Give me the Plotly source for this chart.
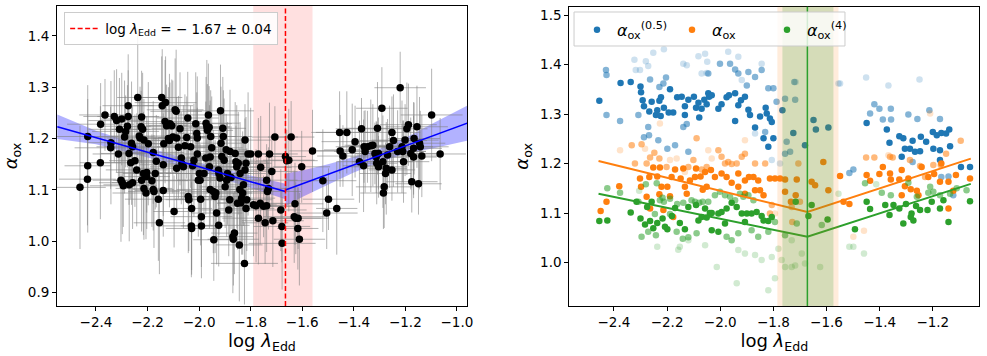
import plotly.graph_objects as go

# ---------------- left panel: alpha_ox vs log lambda_Edd, with errors ----------------
lam_left = [
    -2.462, -2.432, -2.432, -2.433, -2.382, -2.383, -2.365, -2.329, -2.320, -2.342,
    -2.343, -2.313, -2.309, -2.300, -2.289, -2.285, -2.278, -2.275, -2.275, -2.303,
    -2.298, -2.294, -2.271, -2.258, -2.265, -2.272, -2.262, -2.258, -2.249, -2.242,
    -2.238, -2.232, -2.229, -2.225, -2.223, -2.219, -2.223, -2.216, -2.214, -2.206,
    -2.203, -2.203, -2.214, -2.197, -2.183, -2.178, -2.178, -2.175, -2.170, -2.166,
    -2.158, -2.154, -2.145, -2.143, -2.139, -2.139, -2.137, -2.132, -2.130, -2.126,
    -2.119, -2.115, -2.113, -2.106, -2.102, -2.097, -2.093, -2.089, -2.087, -2.087,
    -2.080, -2.074, -2.069, -2.067, -2.061, -2.055, -2.048, -2.044, -2.042, -2.040,
    -2.033, -2.029, -2.029, -2.030, -2.025, -2.020, -2.013, -2.009, -2.007, -2.007,
    -2.003, -1.999, -1.996, -1.994, -1.991, -1.991, -1.981, -1.974, -1.973, -1.970,
    -1.968, -1.964, -1.961, -1.960, -1.957, -1.957, -1.955, -1.951, -1.945, -1.943,
    -1.938, -1.935, -1.932, -1.925, -1.924, -1.923, -1.919, -1.917, -1.915, -1.912,
    -1.908, -1.906, -1.903, -1.899, -1.895, -1.893, -1.890, -1.885, -1.881, -1.880,
    -1.876, -1.869, -1.867, -1.863, -1.860, -1.857, -1.854, -1.851, -1.848, -1.844,
    -1.842, -1.841, -1.838, -1.835, -1.831, -1.828, -1.822, -1.822, -1.818, -1.818,
    -1.815, -1.824, -1.810, -1.800, -1.789, -1.779, -1.770, -1.770, -1.763, -1.761,
    -1.750, -1.744, -1.738, -1.738, -1.735, -1.731, -1.727, -1.718, -1.714, -1.706,
    -1.683, -1.679, -1.678, -1.665, -1.660, -1.652, -1.643, -1.628, -1.631, -1.625,
    -1.617, -1.616, -1.611, -1.602, -1.560, -1.520, -1.498, -1.505, -1.466, -1.455,
    -1.453, -1.442, -1.427, -1.406, -1.395, -1.378, -1.370, -1.362, -1.360, -1.356,
    -1.347, -1.334, -1.326, -1.318, -1.313, -1.311, -1.308, -1.304, -1.304, -1.291,
    -1.287, -1.285, -1.282, -1.277, -1.274, -1.269, -1.261, -1.252, -1.252, -1.246,
    -1.230, -1.220, -1.213, -1.210, -1.207, -1.201, -1.194, -1.188, -1.179, -1.175,
    -1.168, -1.168, -1.166, -1.155, -1.149, -1.145, -1.142, -1.136, -1.098, -1.065,
]
aox_left = [
    1.105, 1.204, 1.147, 1.121, 1.228, 1.153, 1.246, 1.243, 1.235, 1.192,
    1.182, 1.170, 1.218, 1.238, 1.203, 1.214, 1.224, 1.264, 1.243, 1.119,
    1.114, 1.108, 1.110, 1.114, 1.153, 1.171, 1.191, 1.184, 1.157, 1.139,
    1.280, 1.205, 1.201, 1.223, 1.242, 1.218, 1.119, 1.132, 1.197, 1.094,
    1.134, 1.126, 1.103, 1.190, 1.118, 1.101, 1.173, 1.097, 1.132, 1.156,
    1.082, 1.036, 1.280, 1.264, 1.099, 1.149, 1.190, 1.233, 1.270, 1.225,
    1.200, 1.196, 1.229, 1.225, 1.203, 1.058, 1.256, 1.253, 1.142, 1.201,
    1.183, 1.219, 1.162, 1.151, 1.145, 1.186, 1.202, 1.240, 1.087, 1.081,
    1.184, 1.064, 1.025, 1.030, 1.147, 1.158, 1.229, 1.210, 1.201, 1.170,
    1.119, 1.132, 1.119, 1.082, 1.048, 1.030, 1.132, 1.162, 1.230, 1.223,
    1.216, 1.246, 1.222, 1.145, 1.164, 1.101, 1.204, 1.182, 1.097, 1.003,
    1.087, 1.094, 1.055, 1.139, 1.031, 1.132, 1.123, 1.254, 1.191, 1.165,
    1.220, 1.204, 1.158, 1.106, 1.178, 1.119, 1.132, 1.061, 1.081, 1.175,
    1.124, 1.009, 1.004, 1.016, 1.171, 1.155, 1.145, 1.074, 1.152, 0.993,
    1.101, 1.132, 1.075, 1.084, 1.094, 1.110, 1.197, 1.139, 1.152, 1.064,
    1.081, 0.957, 1.170, 1.170, 1.071, 1.069, 1.170, 1.045, 1.074, 1.144,
    1.068, 1.036, 1.119, 1.069, 1.097, 1.103, 1.170, 1.136, 1.040, 1.203,
    1.061, 1.029, 0.996, 1.165, 1.157, 1.158, 1.203, 1.073, 1.048, 1.045,
    1.025, 1.045, 1.004, 1.145, 1.176, 1.118, 1.082, 1.055, 1.064, 1.212,
    1.176, 1.166, 1.212, 1.178, 1.194, 1.155, 1.219, 1.147, 1.184, 1.175,
    1.184, 1.186, 1.187, 1.171, 1.164, 1.152, 1.220, 1.171, 1.145, 1.259,
    1.155, 1.094, 1.106, 1.132, 1.142, 1.168, 1.184, 1.212, 1.139, 1.196,
    1.175, 1.299, 1.184, 1.175, 1.155, 1.197, 1.219, 1.227, 1.171, 1.116,
    1.164, 1.181, 1.200, 1.223, 1.112, 1.191, 1.184, 1.166, 1.246, 1.170,
]
lam_err = [
    0.10, 0.12, 0.09, 0.11, 0.13, 0.08, 0.10, 0.12, 0.11, 0.09, 0.14, 0.10, 0.12, 0.08, 0.11, 0.13, 0.09, 0.10, 0.12, 0.11,
    0.09, 0.13, 0.10, 0.08, 0.12, 0.11, 0.09, 0.14, 0.10, 0.12, 0.08, 0.11, 0.13, 0.10, 0.09, 0.12, 0.11, 0.08, 0.10, 0.13,
    0.12, 0.09, 0.11, 0.10, 0.14, 0.08, 0.12, 0.10, 0.09, 0.11, 0.13, 0.10, 0.08, 0.12, 0.11, 0.09, 0.10, 0.14, 0.12, 0.08,
    0.11, 0.10, 0.13, 0.09, 0.12, 0.08, 0.11, 0.10, 0.14, 0.09, 0.12, 0.11, 0.10, 0.08, 0.13, 0.09, 0.11, 0.12, 0.10, 0.09,
    0.13, 0.08, 0.10, 0.12, 0.11, 0.09, 0.14, 0.10, 0.08, 0.12, 0.11, 0.13, 0.09, 0.10, 0.12, 0.08, 0.11, 0.10, 0.13, 0.09,
    0.10, 0.12, 0.08, 0.11, 0.09, 0.13, 0.10, 0.12, 0.11, 0.08, 0.09, 0.14, 0.10, 0.11, 0.12, 0.09, 0.08, 0.13, 0.10, 0.11,
    0.09, 0.11, 0.12, 0.10, 0.08, 0.13, 0.09, 0.11, 0.10, 0.12, 0.14, 0.08, 0.10, 0.09, 0.11, 0.12, 0.10, 0.08, 0.13, 0.09,
    0.12, 0.10, 0.09, 0.13, 0.11, 0.08, 0.10, 0.12, 0.09, 0.11, 0.10, 0.13, 0.08, 0.12, 0.09, 0.11, 0.10, 0.14, 0.09, 0.12,
    0.11, 0.09, 0.12, 0.10, 0.13, 0.08, 0.11, 0.10, 0.12, 0.09, 0.10, 0.11, 0.13, 0.08, 0.12, 0.10, 0.09, 0.11, 0.12, 0.10,
    0.08, 0.12, 0.10, 0.11, 0.09, 0.13, 0.10, 0.12, 0.08, 0.11, 0.09, 0.10, 0.12, 0.11, 0.13, 0.09, 0.10, 0.08, 0.11, 0.12,
    0.10, 0.09, 0.11, 0.12, 0.10, 0.08, 0.13, 0.09, 0.11, 0.10, 0.12, 0.09, 0.11, 0.10, 0.08, 0.12, 0.10, 0.11, 0.09, 0.13,
    0.11, 0.10, 0.12, 0.09, 0.10, 0.13, 0.08, 0.11, 0.12, 0.10, 0.09, 0.11, 0.10, 0.12, 0.09, 0.10, 0.11, 0.08, 0.12, 0.10,
]
aox_err = [
    0.12, 0.10, 0.13, 0.09, 0.08, 0.11, 0.07, 0.09, 0.10, 0.12, 0.08, 0.06, 0.10, 0.09, 0.11, 0.07, 0.08, 0.10, 0.09, 0.12,
    0.10, 0.08, 0.11, 0.09, 0.07, 0.10, 0.12, 0.08, 0.09, 0.11, 0.13, 0.08, 0.10, 0.07, 0.09, 0.11, 0.10, 0.12, 0.08, 0.09,
    0.11, 0.07, 0.10, 0.12, 0.09, 0.08, 0.10, 0.11, 0.07, 0.09, 0.12, 0.10, 0.08, 0.11, 0.09, 0.10, 0.07, 0.12, 0.09, 0.08,
    0.10, 0.13, 0.08, 0.09, 0.11, 0.07, 0.10, 0.12, 0.09, 0.08, 0.10, 0.11, 0.09, 0.07, 0.12, 0.10, 0.08, 0.09, 0.11, 0.10,
    0.08, 0.12, 0.09, 0.10, 0.07, 0.11, 0.10, 0.08, 0.12, 0.09, 0.11, 0.10, 0.07, 0.09, 0.12, 0.08, 0.10, 0.11, 0.09, 0.13,
    0.09, 0.10, 0.08, 0.12, 0.11, 0.07, 0.09, 0.10, 0.12, 0.08, 0.11, 0.09, 0.10, 0.07, 0.08, 0.12, 0.10, 0.09, 0.11, 0.08,
    0.10, 0.09, 0.12, 0.08, 0.07, 0.11, 0.10, 0.09, 0.08, 0.12, 0.10, 0.11, 0.09, 0.08, 0.10, 0.07, 0.12, 0.09, 0.10, 0.11,
    0.08, 0.10, 0.09, 0.11, 0.12, 0.08, 0.07, 0.10, 0.09, 0.11, 0.10, 0.08, 0.12, 0.09, 0.10, 0.11, 0.07, 0.09, 0.08, 0.10,
    0.06, 0.08, 0.07, 0.09, 0.06, 0.08, 0.10, 0.07, 0.09, 0.06, 0.08, 0.07, 0.09, 0.08, 0.06, 0.10, 0.07, 0.08, 0.09, 0.07,
    0.08, 0.06, 0.09, 0.07, 0.08, 0.10, 0.06, 0.07, 0.09, 0.08, 0.07, 0.06, 0.08, 0.09, 0.07, 0.08, 0.06, 0.09, 0.07, 0.08,
    0.07, 0.09, 0.08, 0.06, 0.07, 0.08, 0.09, 0.07, 0.06, 0.08, 0.09, 0.07, 0.08, 0.06, 0.09, 0.07, 0.08, 0.07, 0.06, 0.09,
    0.08, 0.07, 0.09, 0.06, 0.08, 0.07, 0.09, 0.08, 0.07, 0.06, 0.08, 0.09, 0.07, 0.08, 0.06, 0.09, 0.07, 0.08, 0.09, 0.07,
]

# broken fit with its confidence band (below / above the break)
break_lam = -1.665
band_left = [-1.790, -1.560]
fit_lo_x = [-2.55, -2.40, -2.20, -2.00, -1.80, -1.665]
fit_lo_y = [1.223, 1.202, 1.173, 1.145, 1.116, 1.097]
fit_lo_lower = [1.199, 1.189, 1.163, 1.137, 1.104, 1.082]
fit_lo_upper = [1.247, 1.215, 1.183, 1.153, 1.128, 1.112]
fit_hi_x = [-1.665, -1.60, -1.50, -1.40, -1.30, -1.20, -1.10, -0.96]
fit_hi_y = [1.100, 1.112, 1.130, 1.149, 1.167, 1.186, 1.204, 1.230]
fit_hi_lower = [1.068, 1.086, 1.110, 1.134, 1.154, 1.171, 1.180, 1.196]
fit_hi_upper = [1.132, 1.138, 1.150, 1.164, 1.180, 1.201, 1.228, 1.264]
break_label = "log <i>λ</i><sub>Edd</sub> = − 1.67 ± 0.04"

# ---------------- right panel: three alpha_ox definitions ----------------
# points split by their plotted weight: hi (opaque), mid, light (faint)
blue_hi_x = [-2.455, -2.375, -2.337, -2.300, -2.298, -2.292, -2.287, -2.267, -2.258, -2.237,
             -2.229, -2.223, -2.242, -2.224, -2.212, -2.194, -2.177, -2.189, -2.162, -2.145,
             -2.133, -2.120, -2.099, -2.091, -2.082, -2.070, -2.060, -2.051, -2.045, -2.079,
             -2.133, -2.042, -2.032, -2.007, -1.995, -1.976, -1.967, -1.944, -1.944, -1.932,
             -1.922, -1.907, -1.894, -1.888, -1.869, -1.850, -1.829, -1.825, -1.813, -1.806,
             -1.837, -1.800, -1.819, -1.766, -1.725, -1.649, -1.640, -1.593, -1.681, -1.449,
             -1.373, -1.363, -1.326, -1.311, -1.305, -1.286, -1.276, -1.267, -1.248, -1.245,
             -1.225, -1.198, -1.200, -1.185, -1.173, -1.168, -1.150, -1.138, -1.135, -1.173,
             -1.317, -1.094, -1.060]
blue_hi_y = [1.327, 1.363, 1.365, 1.356, 1.344, 1.328, 1.316, 1.305, 1.325, 1.308,
             1.327, 1.334, 1.298, 1.296, 1.313, 1.303, 1.303, 1.350, 1.334, 1.335,
             1.316, 1.329, 1.335, 1.313, 1.323, 1.311, 1.329, 1.320, 1.342, 1.293,
             1.298, 1.335, 1.338, 1.311, 1.320, 1.334, 1.338, 1.342, 1.286, 1.318,
             1.328, 1.335, 1.309, 1.298, 1.273, 1.295, 1.313, 1.301, 1.291, 1.284,
             1.251, 1.251, 1.234, 1.308, 1.262, 1.288, 1.269, 1.273, 1.237, 1.282,
             1.269, 1.242, 1.255, 1.251, 1.230, 1.230, 1.246, 1.224, 1.225, 1.254,
             1.244, 1.230, 1.264, 1.257, 1.227, 1.262, 1.261, 1.269, 1.235, 1.207,
             1.214, 1.193, 1.193]
blue_mid_x = [-2.430, -2.428, -2.428, -2.377, -2.308, -2.264, -2.204, -2.214, -2.229, -2.271,
              -2.268, -2.287, -2.233, -2.199, -2.139, -2.126, -2.170, -2.120, -2.045, -2.001,
              -1.963, -1.944, -1.932, -1.894, -1.869, -1.900, -1.844, -1.819, -1.800, -1.788,
              -1.756, -1.718, -1.831, -1.750, -1.737, -1.756, -1.721, -1.436, -1.420, -1.401,
              -1.388, -1.358, -1.357, -1.292, -1.258, -1.213, -1.173, -1.276, -1.499, -1.514,
              -1.168, -1.141, -1.123]
blue_mid_y = [1.389, 1.379, 1.298, 1.286, 1.298, 1.370, 1.374, 1.362, 1.355, 1.274,
              1.257, 1.253, 1.247, 1.230, 1.274, 1.280, 1.237, 1.224, 1.382, 1.402,
              1.402, 1.390, 1.382, 1.385, 1.375, 1.358, 1.389, 1.352, 1.352, 1.325,
              1.331, 1.329, 1.264, 1.244, 1.224, 1.220, 1.365, 1.301, 1.320, 1.311,
              1.289, 1.311, 1.289, 1.299, 1.290, 1.308, 1.290, 1.203, 1.188, 1.181,
              1.173, 1.174, 1.136]
blue_light_x = [-2.318, -2.302, -2.280, -2.323, -2.252, -2.212, -2.126, -2.139, -2.082, -2.070,
                -2.051, -2.049, -2.271, -2.057, -1.970, -1.932, -1.844, -1.869, -1.919, -1.806,
                -1.775, -1.716, -1.555, -1.451, -1.367, -1.250, -1.549]
blue_light_y = [1.389, 1.389, 1.407, 1.410, 1.424, 1.431, 1.399, 1.402, 1.417, 1.382,
                1.383, 1.406, 1.397, 1.422, 1.426, 1.416, 1.402, 1.261, 1.369, 1.207,
                1.200, 1.365, 1.362, 1.374, 1.358, 1.370, 1.362]

orange_hi_x = [-2.380, -2.302, -2.298, -2.267, -2.252, -2.227, -2.221, -2.199, -2.189, -2.183,
               -2.170, -2.139, -2.133, -2.126, -2.114, -2.095, -2.091, -2.074, -2.051, -2.066,
               -2.428, -2.264, -2.277, -2.229, -2.214, -2.177, -2.149, -2.237, -2.057, -2.035,
               -2.020, -1.995, -1.976, -1.957, -1.932, -1.907, -1.892, -1.875, -1.857, -1.932,
               -1.907, -1.869, -1.850, -1.837, -1.813, -1.794, -1.775, -1.756, -1.734, -1.756,
               -1.712, -1.716, -1.656, -1.643, -1.593, -1.612, -1.536, -1.549, -1.449, -1.436,
               -1.401, -1.388, -1.361, -1.358, -1.326, -1.317, -1.305, -1.292, -1.283, -1.260,
               -1.254, -1.242, -1.217, -1.195, -1.173, -1.168, -1.141, -1.123, -1.113, -1.060,
               -1.514, -1.317, -1.141, -2.450]
orange_hi_y = [1.154, 1.170, 1.153, 1.173, 1.192, 1.192, 1.153, 1.153, 1.134, 1.173,
               1.188, 1.190, 1.153, 1.139, 1.166, 1.173, 1.190, 1.174, 1.153, 1.147,
               1.123, 1.109, 1.133, 1.138, 1.106, 1.092, 1.170, 1.174, 1.183, 1.187,
               1.173, 1.180, 1.173, 1.161, 1.180, 1.166, 1.173, 1.173, 1.166, 1.153,
               1.139, 1.146, 1.146, 1.136, 1.170, 1.170, 1.170, 1.143, 1.123, 1.168,
               1.168, 1.136, 1.163, 1.156, 1.146, 1.203, 1.123, 1.175, 1.177, 1.165,
               1.179, 1.193, 1.180, 1.168, 1.168, 1.187, 1.154, 1.170, 1.148, 1.145,
               1.136, 1.193, 1.173, 1.179, 1.163, 1.200, 1.163, 1.145, 1.177, 1.170,
               1.118, 1.136, 1.109, 1.104]
orange_mid_x = [-2.321, -2.333, -2.296, -2.277, -2.264, -2.229, -2.202, -2.120, -2.101, -2.089,
                -2.070, -2.051, -2.248, -2.007, -1.995, -1.982, -1.970, -1.957, -1.938, -1.919,
                -1.907, -1.869, -1.831, -1.806, -1.813, -1.731, -1.706, -1.700, -1.729, -1.451,
                -1.420, -1.361, -1.351, -1.286, -1.248, -1.198, -1.170, -1.150, -1.229, -1.095]
orange_mid_y = [1.200, 1.237, 1.239, 1.200, 1.212, 1.210, 1.193, 1.193, 1.207, 1.251,
                1.188, 1.193, 1.222, 1.227, 1.214, 1.200, 1.203, 1.199, 1.200, 1.214,
                1.220, 1.200, 1.200, 1.116, 1.099, 1.112, 1.200, 1.123, 1.082, 1.212,
                1.212, 1.214, 1.212, 1.207, 1.195, 1.197, 1.197, 1.220, 1.173, 1.246]
orange_light_x = [-2.377, -2.227, -2.283, -2.189, -2.164, -2.133, -2.032, -2.045, -1.907, -1.794,
                  -1.459, -1.499, -1.367, -1.210]
orange_light_y = [1.227, 1.281, 1.230, 1.207, 1.210, 1.183, 1.210, 1.227, 1.247, 1.099,
                  1.064, 1.052, 1.217, 1.301]

green_hi_x = [-2.455, -2.425, -2.337, -2.300, -2.283, -2.264, -2.237, -2.217, -2.199, -2.182,
              -2.170, -2.152, -2.133, -2.120, -2.091, -2.082, -2.070, -2.051, -2.039, -2.275,
              -2.315, -2.258, -2.208, -2.252, -2.057, -2.032, -2.007, -1.995, -1.976, -1.957,
              -1.938, -1.919, -1.900, -1.882, -1.863, -1.844, -1.837, -1.819, -1.806, -2.032,
              -2.007, -1.982, -1.907, -1.656, -1.596, -1.716, -1.668, -1.449, -1.436, -1.379,
              -1.363, -1.348, -1.326, -1.311, -1.301, -1.283, -1.273, -1.263, -1.248, -1.220,
              -1.204, -1.173, -1.160, -1.141, -1.060, -1.280, -1.493]
green_hi_y = [1.084, 1.085, 1.101, 1.089, 1.077, 1.084, 1.080, 1.089, 1.067, 1.094,
              1.110, 1.080, 1.067, 1.112, 1.116, 1.085, 1.092, 1.091, 1.100, 1.112,
              1.123, 1.123, 1.072, 1.069, 1.109, 1.100, 1.099, 1.102, 1.109, 1.121,
              1.112, 1.099, 1.099, 1.099, 1.102, 1.094, 1.085, 1.084, 1.092, 1.065,
              1.062, 1.079, 1.082, 1.116, 1.087, 1.123, 1.094, 1.123, 1.108, 1.116,
              1.096, 1.116, 1.109, 1.079, 1.118, 1.092, 1.085, 1.114, 1.106, 1.106,
              1.123, 1.109, 1.126, 1.082, 1.124, 1.099, 1.067]
green_mid_x = [-2.425, -2.377, -2.308, -2.280, -2.239, -2.227, -2.217, -2.212, -2.189, -2.162,
               -2.139, -2.108, -2.095, -2.079, -2.066, -2.271, -2.242, -2.164, -2.141, -2.120,
               -2.089, -2.296, -2.246, -2.189, -2.045, -2.020, -2.001, -1.982, -1.963, -1.944,
               -1.926, -1.913, -1.894, -1.875, -1.932, -1.957, -1.976, -1.882, -1.857, -1.819,
               -1.794, -1.756, -1.712, -1.618, -1.455, -1.392, -1.358, -1.292, -1.217, -1.198,
               -1.173, -1.135, -1.110, -1.073, -1.210, -1.260]
green_mid_y = [1.150, 1.141, 1.123, 1.158, 1.160, 1.126, 1.131, 1.123, 1.129, 1.118,
               1.121, 1.126, 1.123, 1.121, 1.123, 1.062, 1.055, 1.062, 1.048, 1.051,
               1.059, 1.052, 1.098, 1.098, 1.123, 1.136, 1.143, 1.136, 1.133, 1.126,
               1.139, 1.133, 1.136, 1.126, 1.059, 1.045, 1.052, 1.065, 1.052, 1.062,
               1.082, 1.055, 1.079, 1.076, 1.160, 1.141, 1.136, 1.161, 1.141, 1.143,
               1.136, 1.139, 1.150, 1.146, 1.153, 1.133]
green_light_x = [-2.152, -2.158, -2.237, -2.057, -2.120, -2.305, -1.932, -1.907, -1.869, -1.844,
                 -1.806, -1.769, -1.731, -1.693, -1.794, -1.756, -1.718, -1.681, -1.555, -1.781,
                 -1.514, -1.499, -1.459, -1.413, -2.013, -1.938, -1.819, -1.731, -1.624]
green_light_y = [1.032, 1.026, 1.032, 1.035, 1.045, 1.145, 1.025, 1.018, 1.015, 1.005,
                 1.011, 1.005, 1.045, 1.018, 0.968, 0.991, 0.994, 0.998, 1.139, 1.028,
                 1.032, 1.032, 1.018, 1.158, 0.991, 0.958, 0.944, 0.991, 0.991]

# broken fits of the right panel (start, break, end)
fitR_x = [-2.458, -1.672, -1.057]
orange_fit = [1.205, 1.102, 1.210]
green_fit = [1.139, 1.052, 1.159]
break_right = -1.672
band_orange = [-1.785, -1.555]
band_green = [-1.766, -1.574]

TAB_BLUE, TAB_ORANGE, TAB_GREEN = "#1f77b4", "#ff7f0e", "#2ca02c"
FONT = "DejaVu Sans"


def make_figure():
    fig = go.Figure()

    # --- left panel ---
    fig.add_shape(type="rect", x0=band_left[0], x1=band_left[1], y0=0, y1=1,
                  xref="x", yref="y domain", layer="below", line_width=0,
                  fillcolor="rgba(255,0,0,0.12)")

    for xs, lo, hi in [(fit_lo_x, fit_lo_lower, fit_lo_upper), (fit_hi_x, fit_hi_lower, fit_hi_upper)]:
        fig.add_trace(go.Scatter(x=xs, y=lo, mode="lines", line=dict(width=0),
                                 showlegend=False, hoverinfo="skip"))
        fig.add_trace(go.Scatter(x=xs, y=hi, mode="lines", line=dict(width=0),
                                 fill="tonexty", fillcolor="rgba(0,0,255,0.3)",
                                 showlegend=False, hoverinfo="skip"))

    fig.add_trace(go.Scatter(
        x=lam_left, y=aox_left, mode="markers",
        marker=dict(color="black", size=7.5),
        error_x=dict(type="data", array=lam_err, color="rgba(128,128,128,0.6)",
                     thickness=1, width=0),
        error_y=dict(type="data", array=aox_err, color="rgba(128,128,128,0.6)",
                     thickness=1, width=0),
        showlegend=False))

    for xs, ys in [(fit_lo_x, fit_lo_y), (fit_hi_x, fit_hi_y)]:
        fig.add_trace(go.Scatter(x=xs, y=ys, mode="lines", line=dict(color="blue", width=1.5),
                                 showlegend=False))

    # legend entry for the break (the line itself is a shape)
    fig.add_trace(go.Scatter(
        x=[None], y=[None], mode="lines", line=dict(color="red", width=1.5, dash="5px,2.5px"),
        name=break_label, legend="legend"))

    fig.add_shape(type="line", x0=break_lam, x1=break_lam, y0=0, y1=1,
                  xref="x", yref="y domain", layer="above",
                  line=dict(color="red", width=1.5, dash="5px,2.5px"))

    # --- right panel ---
    weights = {"light": 0.22, "mid": 0.55, "hi": 1.0}
    series = [
        (TAB_BLUE, "<i>α</i><sub>ox</sub><sup>(0.5)</sup>",
         {"light": (blue_light_x, blue_light_y), "mid": (blue_mid_x, blue_mid_y),
          "hi": (blue_hi_x, blue_hi_y)}),
        (TAB_ORANGE, "<i>α</i><sub>ox</sub>",
         {"light": (orange_light_x, orange_light_y), "mid": (orange_mid_x, orange_mid_y),
          "hi": (orange_hi_x, orange_hi_y)}),
        (TAB_GREEN, "<i>α</i><sub>ox</sub><sup>(4)</sup>",
         {"light": (green_light_x, green_light_y), "mid": (green_mid_x, green_mid_y),
          "hi": (green_hi_x, green_hi_y)}),
    ]
    for color, label, groups in series:
        for level in ["light", "mid", "hi"]:
            xs, ys = groups[level]
            fig.add_trace(go.Scatter(
                x=xs, y=ys, mode="markers", xaxis="x2", yaxis="y2",
                marker=dict(color=color, size=6.5, opacity=weights[level]),
                name=label, legend="legend2", showlegend=(level == "hi")))

    fig.add_trace(go.Scatter(x=fitR_x, y=orange_fit, mode="lines", xaxis="x2", yaxis="y2",
                             line=dict(color=TAB_ORANGE, width=2), showlegend=False))
    fig.add_trace(go.Scatter(x=fitR_x, y=green_fit, mode="lines", xaxis="x2", yaxis="y2",
                             line=dict(color=TAB_GREEN, width=2), showlegend=False))

    fig.add_shape(type="rect", x0=band_orange[0], x1=band_orange[1], y0=0, y1=1,
                  xref="x2", yref="y2 domain", layer="above", line_width=0,
                  fillcolor="rgba(255,127,14,0.15)")
    fig.add_shape(type="rect", x0=band_green[0], x1=band_green[1], y0=0, y1=1,
                  xref="x2", yref="y2 domain", layer="above", line_width=0,
                  fillcolor="rgba(44,160,44,0.2)")
    fig.add_shape(type="line", x0=break_right, x1=break_right, y0=0, y1=1,
                  xref="x2", yref="y2 domain", layer="above",
                  line=dict(color=TAB_GREEN, width=1.5))

    # frame behind the right legend (matplotlib-style box, wider than plotly's own)
    fig.add_shape(type="rect", xref="paper", yref="paper",
                  x0=0.5816, x1=0.8561, y0=0.8708, y1=0.9663, layer="above",
                  fillcolor="rgba(255,255,255,0.8)", line=dict(color="#cccccc", width=1))

    axis_common = dict(showline=True, mirror=True, linecolor="black", linewidth=1,
                       ticks="outside", ticklen=4, tickcolor="black", showgrid=False,
                       zeroline=False, tickfont=dict(size=13.5, color="black"),
                       automargin=False)
    xtitle = dict(text="log <i>λ</i><sub>Edd</sub>", font=dict(size=18, color="black"), standoff=3)
    ytitle = dict(text="<i>α</i><sub>ox</sub>", font=dict(size=18, color="black"), standoff=6)

    fig.update_layout(
        width=987, height=356,
        margin=dict(l=0, r=0, t=0, b=0),
        paper_bgcolor="white", plot_bgcolor="white",
        font=dict(family=FONT, color="black"),
        xaxis=dict(domain=[0.0578, 0.4731], range=[-2.551, -0.961],
                   tickvals=[-2.4, -2.2, -2.0, -1.8, -1.6, -1.4, -1.2, -1.0],
                   tickformat=".1f", title=xtitle, **axis_common),
        yaxis=dict(domain=[0.1404, 0.983], range=[0.874, 1.458],
                   tickvals=[0.9, 1.0, 1.1, 1.2, 1.3, 1.4], tickformat=".1f",
                   title=ytitle, **axis_common),
        xaxis2=dict(domain=[0.5768, 0.9922], range=[-2.568, -1.025], anchor="y2",
                    tickvals=[-2.4, -2.2, -2.0, -1.8, -1.6, -1.4, -1.2],
                    tickformat=".1f", title=xtitle, **axis_common),
        yaxis2=dict(domain=[0.1404, 0.981], range=[0.912, 1.517], anchor="x2",
                    tickvals=[1.0, 1.1, 1.2, 1.3, 1.4, 1.5], tickformat=".1f",
                    title=ytitle, **axis_common),
        legend=dict(x=0.065, y=0.966, xanchor="left", yanchor="top",
                    bgcolor="rgba(255,255,255,0.85)", bordercolor="#cccccc", borderwidth=1,
                    font=dict(size=13.5, color="black")),
        legend2=dict(x=0.5846, y=0.964, xanchor="left", yanchor="top", orientation="h",
                     entrywidth=50, entrywidthmode="pixels",
                     bgcolor="rgba(0,0,0,0)", borderwidth=0,
                     font=dict(size=16, color="black")),
    )
    return fig


if __name__ == "__main__":
    fig = make_figure()
    # drop the browser's default body margin so the figure sits at the page corner
    fig.write_html("out.html", config={"displayModeBar": False},
                   post_script="document.body.style.margin='0px';")
